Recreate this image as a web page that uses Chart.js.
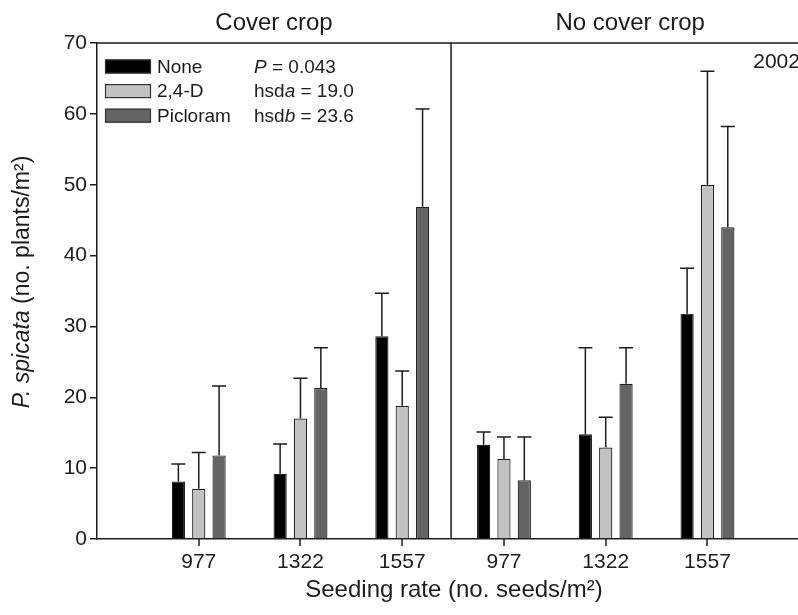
<!DOCTYPE html>
<html><head><meta charset="utf-8">
<script src="https://cdn.jsdelivr.net/npm/chart.js@4.4.1/dist/chart.umd.min.js"></script>
<style>html,body{margin:0;padding:0;background:#fff;overflow:hidden}#wrap{position:relative;width:798px;height:615px}</style>
</head><body><div id="wrap"><canvas id="c"></canvas></div>
<script>
const seedingRates = ['977','1322','1557','977','1322','1557'];
const panelTitles = ['Cover crop','No cover crop'];
const seriesNames = ['None','2,4-D','Picloram'];
const noneValues = [8.1, 9.2, 28.6, 13.3, 14.8, 31.8];
const noneErrors = [2.5, 4.2, 6.1, 1.8, 12.2, 6.4];
const d24Values = [7.1, 17.0, 18.8, 11.3, 12.9, 50.0];
const d24Errors = [5.1, 5.7, 4.9, 3.1, 4.3, 16.0];
const picloramValues = [11.8, 21.3, 46.9, 8.3, 21.9, 44.0];
const picloramErrors = [9.8, 5.7, 13.8, 6.1, 5.1, 14.2];
const yTicks = [0,10,20,30,40,50,60,70];
const statsLines = [
  [['P',true],[' = 0.043',false]],
  [['hsd',false],['a',true],[' = 19.0',false]],
  [['hsd',false],['b',true],[' = 23.6',false]]
];
const yearLabel = '2002';
const xTitle = 'Seeding rate (no. seeds/m\u00B2)';
const yTitleParts = [['P. spicata',true],[' (no. plants/m\u00B2)',false]];

const FONT = '"Liberation Sans", Arial, Helvetica, sans-serif';
const INK = '#1c1c1c';
const colors = ['#000000','#c2c2c2','#646464'];
const errorSets = [noneErrors, d24Errors, picloramErrors];
const valueSets = [noneValues, d24Values, picloramValues];

function toPoints(vals){ return vals.map((v,i)=>({x:i+1, y:v})); }

function drawMixed(ctx, parts, x, y, size, align){
  let total = 0;
  const widths = parts.map(([t,it])=>{ ctx.font = (it?'italic ':'') + size + 'px ' + FONT; const w = ctx.measureText(t).width; total += w; return w; });
  let cx = align === 'center' ? x - total/2 : x;
  ctx.textAlign = 'left';
  parts.forEach(([t,it],k)=>{ ctx.font = (it?'italic ':'') + size + 'px ' + FONT; ctx.fillText(t, cx, y); cx += widths[k]; });
}

const decor = {
  id: 'decor',
  afterDraw(chart){
    const ctx = chart.ctx, xs = chart.scales.x, ys = chart.scales.y, ca = chart.chartArea;
    ctx.save();
    // error bars
    ctx.strokeStyle = INK; ctx.lineWidth = 1.5;
    chart.data.datasets.forEach((ds, di)=>{
      const meta = chart.getDatasetMeta(di);
      meta.data.forEach((el, i)=>{
        const v = ds.data[i].y, e = errorSets[di][i];
        const y0 = ys.getPixelForValue(v), y1 = ys.getPixelForValue(v+e);
        ctx.beginPath();
        ctx.moveTo(el.x, y0); ctx.lineTo(el.x, y1);
        ctx.moveTo(el.x-7, y1); ctx.lineTo(el.x+7, y1);
        ctx.stroke();
      });
    });
    // x tick marks at category positions
    ctx.fillStyle = INK;
    seedingRates.forEach((_, i)=>{
      const px = Math.round(xs.getPixelForValue(i+1));
      ctx.fillRect(px - 0.75, ca.bottom, 1.5, 7);
    });
    // top border and panel divider
    ctx.lineWidth = 1.5;
    ctx.beginPath();
    ctx.moveTo(ca.left, ca.top); ctx.lineTo(ca.right, ca.top);
    const dx = xs.getPixelForValue(3.48);
    ctx.moveTo(dx, ca.top); ctx.lineTo(dx, ca.bottom);
    ctx.stroke();
    // panel titles
    ctx.fillStyle = INK; ctx.textBaseline = 'alphabetic'; ctx.textAlign = 'center';
    ctx.font = '24px ' + FONT;
    ctx.fillText(panelTitles[0], xs.getPixelForValue(1.74), 30);
    ctx.fillText(panelTitles[1], xs.getPixelForValue(5.24), 30);
    // year
    ctx.font = '21px ' + FONT; ctx.textAlign = 'left';
    ctx.fillText(yearLabel, xs.getPixelForValue(6.45), 68);
    // legend
    ctx.textBaseline = 'middle';
    chart.data.datasets.forEach((ds, di)=>{
      const cy = 66.5 + di*24.6;
      ctx.fillStyle = ds.backgroundColor;
      ctx.fillRect(105, cy-7, 46, 14);
      ctx.strokeStyle = '#333'; ctx.lineWidth = 1.2;
      ctx.strokeRect(105.5, cy-6.5, 45, 13);
      ctx.fillStyle = INK; ctx.font = '19px ' + FONT; ctx.textAlign = 'left';
      ctx.fillText(ds.label, 157, cy+1);
      drawMixed(ctx, statsLines[di], 254, cy+1, 19, 'left');
    });
    // axis titles
    ctx.textBaseline = 'alphabetic';
    drawMixed(ctx, [[xTitle,false]], 454, 597, 24, 'center');
    ctx.translate(23, 282); ctx.rotate(-Math.PI/2);
    ctx.textBaseline = 'middle';
    drawMixed(ctx, yTitleParts, 0, 0, 23, 'center');
    ctx.restore();
  }
};

new Chart(document.getElementById('c'), {
  type: 'bar',
  data: {
    datasets: seriesNames.map((name, i)=>({
      label: name,
      data: toPoints(valueSets[i]),
      backgroundColor: colors[i],
      borderColor: '#222',
      borderWidth: 1.2,
      categoryPercentage: 0.6,
      barPercentage: 0.65
    }))
  },
  options: {
    responsive: true, maintainAspectRatio: false, animation: false,
    layout: { padding: { top: 43, left: 0, right: 0, bottom: 0 } },
    plugins: { legend: { display: false }, tooltip: { enabled: false } },
    scales: {
      x: {
        type: 'linear', min: 0, max: 6.89, offset: false,
        afterBuildTicks: s => { s.ticks = seedingRates.map((_, i)=>({ value: i+1 })); },
        afterFit: s => { s.height = 76; },
        ticks: { autoSkip: false, maxRotation: 0, padding: 4, color: INK, font: { family: FONT, size: 21 },
          callback: v => seedingRates[Math.round(v)-1] || '' },
        grid: { display: false, drawTicks: true, tickLength: 7 },
        border: { display: true, color: INK, width: 1.5 }
      },
      y: {
        min: 0, max: 70,
        afterBuildTicks: s => { s.ticks = yTicks.map(v=>({ value: v })); },
        afterFit: s => { s.width = 97; },
        ticks: { padding: 3, color: INK, font: { family: FONT, size: 21 } },
        grid: { display: true, offset: false, drawOnChartArea: false, drawTicks: true, tickLength: 7, color: INK, lineWidth: 1.5 },
        border: { display: true, color: INK, width: 1.5 }
      }
    }
  },
  plugins: [decor]
});
</script></body></html>
